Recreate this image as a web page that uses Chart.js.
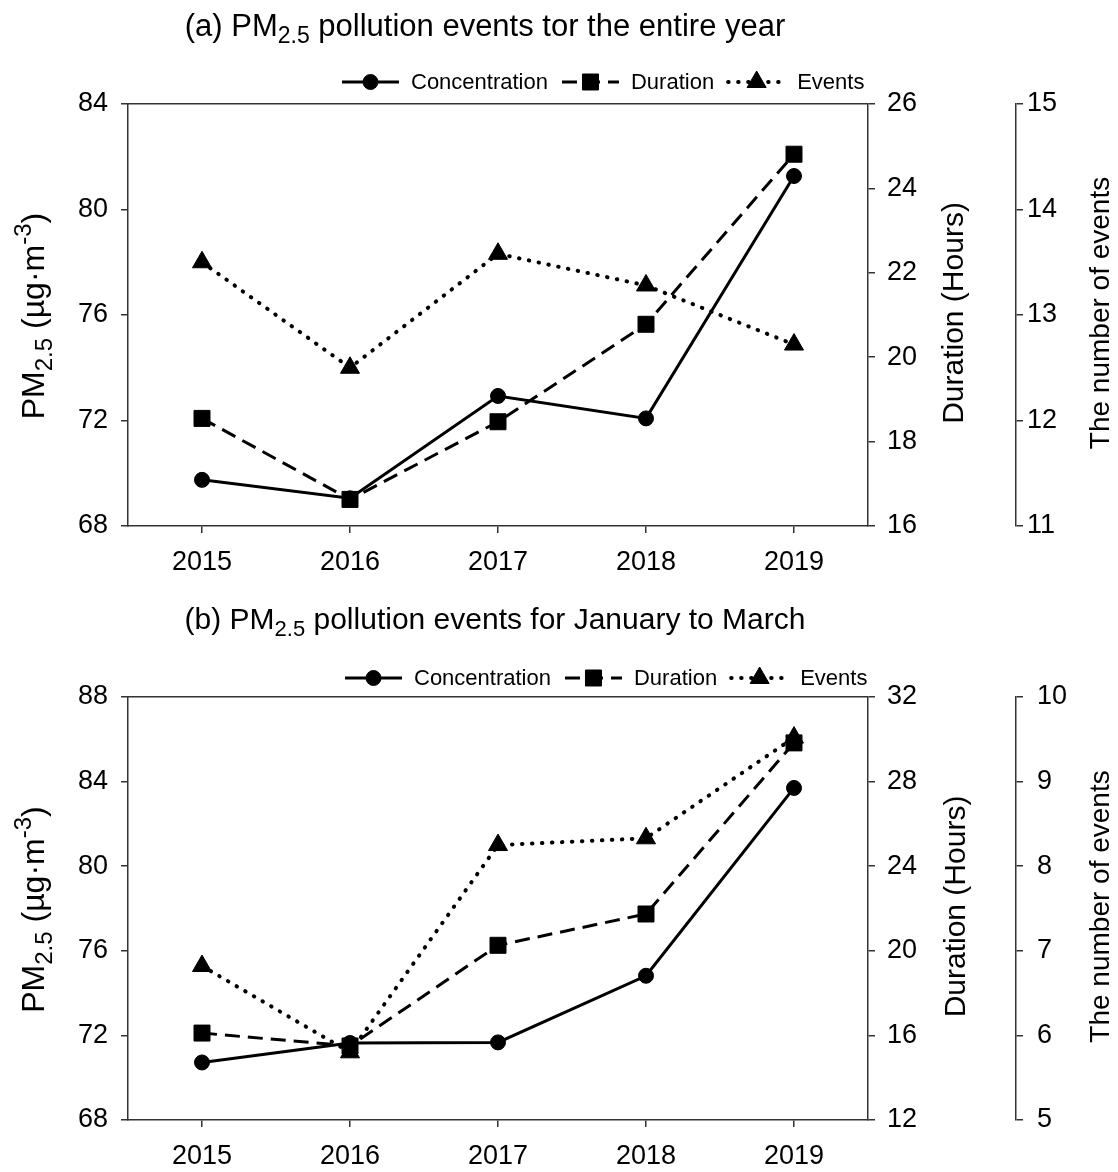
<!DOCTYPE html>
<html>
<head>
<meta charset="utf-8">
<title>PM2.5 pollution events</title>
<script src="https://cdn.jsdelivr.net/npm/chart.js@4.4.1/dist/chart.umd.min.js"></script>
<style>
  html, body { margin: 0; padding: 0; background: #fff; }
  #wrap { width: 1118px; height: 1172px; }
  canvas { display: block; }
</style>
</head>
<body>
<div id="wrap">
  <canvas id="chartA" width="1118" height="586"></canvas>
  <canvas id="chartB" width="1118" height="586"></canvas>
</div>
<script>
const years = ['2015', '2016', '2017', '2018', '2019'];

// (a) whole year
const concYear = [69.75, 69.05, 72.93, 72.08, 81.27];
const durYear = [18.55, 16.63, 18.47, 20.78, 24.81];
const eventsYear = [13.5, 12.5, 13.58, 13.28, 12.72];

// (b) January to March
const concJfm = [70.72, 71.64, 71.67, 74.82, 83.7];
const durJfm = [16.11, 15.5, 20.26, 21.74, 29.83];
const eventsJfm = [6.82, 5.8, 8.25, 8.33, 9.52];

const FONT = '"Liberation Sans", Arial, sans-serif';
const axisColor = '#333';
const tickFont = {family: FONT, size: 27};

// text made of runs with their own size / baseline shift (sub- and superscripts)
function drawRich(ctx, parts, x, y, rotate) {
    ctx.save();
    ctx.translate(x, y);
    if (rotate) ctx.rotate(-Math.PI / 2);
    ctx.fillStyle = '#000';
    ctx.textBaseline = 'alphabetic';
    ctx.textAlign = 'left';
    let total = 0;
    parts.forEach(p => {
        ctx.font = p.size + 'px ' + FONT;
        p.w = ctx.measureText(p.text).width;
        total += p.w;
    });
    let cx = -total / 2;
    parts.forEach(p => {
        ctx.font = p.size + 'px ' + FONT;
        ctx.fillText(p.text, cx, p.dy || 0);
        cx += p.w;
    });
    ctx.restore();
}

function drawLegend(chart, x0, y) {
    const ctx = chart.ctx;
    let x = x0;
    chart.data.datasets.forEach(ds => {
        ctx.save();
        ctx.strokeStyle = '#000';
        ctx.lineWidth = ds.borderWidth;
        ctx.setLineDash(ds.borderDash || []);
        ctx.lineCap = ds.borderCapStyle || 'butt';
        ctx.beginPath();
        ctx.moveTo(x, y);
        ctx.lineTo(x + 57, y);
        ctx.stroke();
        ctx.restore();

        ctx.save();
        ctx.fillStyle = '#000';
        ctx.strokeStyle = '#000';
        ctx.lineWidth = 1;
        Chart.helpers.drawPoint(ctx, {
            pointStyle: ds.pointStyle, radius: ds.pointRadius, borderWidth: 1, rotation: 0
        }, x + 28.5, y);
        ctx.restore();

        ctx.save();
        ctx.fillStyle = '#000';
        ctx.font = '22px ' + FONT;
        ctx.textBaseline = 'middle';
        ctx.fillText(ds.label, x + 69, y + 1);
        const w = ctx.measureText(ds.label).width;
        ctx.restore();
        x += 69 + w + 14;
    });
}

const pmLabel = [
    {text: 'PM', size: 32},
    {text: '2.5', size: 24, dy: 8},
    {text: ' (\u00b5g\u00b7m', size: 32},
    {text: '-3', size: 24, dy: -13},
    {text: ')', size: 32}
];

const panelDecor = {
    id: 'panelDecor',
    afterDraw(chart, args, o) {
        const ctx = chart.ctx;
        const a = chart.chartArea;

        // top edge of the frame
        ctx.save();
        ctx.strokeStyle = axisColor;
        ctx.lineWidth = 1.5;
        ctx.beginPath();
        ctx.moveTo(a.left, a.top - 0.25);
        ctx.lineTo(a.right, a.top - 0.25);
        ctx.stroke();
        ctx.restore();

        drawRich(ctx, o.title, o.titleX, o.titleY, false);

        const midY = (a.top + a.bottom) / 2;
        drawRich(ctx, pmLabel, 44, midY + 1, true);
        drawRich(ctx, [{text: 'Duration (Hours)', size: 30}], o.durX, midY - 2, true);
        drawRich(ctx, [{text: 'The number of events', size: 28}], 1109, midY - 2, true);

        drawLegend(chart, o.legendX, o.legendY);
    }
};

function yScale(pos, min, max, step, width, pad, weight) {
    return {
        position: pos,
        min: min,
        max: max,
        weight: weight,
        border: {display: true, color: axisColor, width: 1.5},
        grid: {drawOnChartArea: false, color: axisColor, lineWidth: 1.5, tickLength: 7},
        ticks: {stepSize: step, padding: pad, color: '#000', font: tickFont},
        afterFit: s => { s.width = width; }
    };
}

function makePanel(id, conc, dur, events, p) {
    const ctx = document.getElementById(id).getContext('2d');
    return new Chart(ctx, {
        type: 'line',
        data: {
            labels: years,
            datasets: [
                {
                    label: 'Concentration', data: conc, yAxisID: 'y',
                    borderColor: '#000', borderWidth: 3,
                    pointStyle: 'circle', pointRadius: 7.5,
                    pointBackgroundColor: '#000', pointBorderColor: '#000', pointBorderWidth: 1
                },
                {
                    label: 'Duration', data: dur, yAxisID: 'y1',
                    borderColor: '#000', borderWidth: 3, borderDash: [15, 8],
                    pointStyle: 'rect', pointRadius: 11.3,
                    pointBackgroundColor: '#000', pointBorderColor: '#000', pointBorderWidth: 1
                },
                {
                    label: 'Events', data: events, yAxisID: 'y2',
                    borderColor: '#000', borderWidth: 4, borderDash: [0.5, 9.5], borderCapStyle: 'round',
                    pointStyle: 'triangle', pointRadius: 11,
                    pointBackgroundColor: '#000', pointBorderColor: '#000', pointBorderWidth: 1
                }
            ]
        },
        options: {
            responsive: false,
            animation: false,
            devicePixelRatio: 1,
            layout: {padding: {top: p.top, left: 0, right: 0, bottom: 0}},
            plugins: {
                legend: {display: false},
                tooltip: {enabled: false},
                panelDecor: p.decor
            },
            scales: {
                x: {
                    type: 'category',
                    offset: true,
                    border: {display: true, color: axisColor, width: 1.5},
                    grid: {offset: false, drawOnChartArea: false, color: axisColor, lineWidth: 1.5, tickLength: 7},
                    ticks: {padding: 13, color: '#000', font: tickFont, maxRotation: 0},
                    afterFit: s => { s.height = p.xHeight; }
                },
                y: yScale('left', p.y[0], p.y[1], p.y[2], 128, 13, 0),
                y1: yScale('right', p.y1[0], p.y1[1], p.y1[2], 148, 12, 0),
                y2: yScale('right', p.y2[0], p.y2[1], p.y2[2], 102, p.y2Pad, 1)
            }
        },
        plugins: [panelDecor]
    });
}

makePanel('chartA', concYear, durYear, eventsYear, {
    top: 104, xHeight: 60,
    y: [68, 84, 4], y1: [16, 26, 2], y2: [11, 15, 1], y2Pad: 4,
    decor: {
        title: [
            {text: '(a) PM', size: 31},
            {text: '2.5', size: 23, dy: 7},
            {text: ' pollution events tor the entire year', size: 31}
        ],
        titleX: 485, titleY: 36,
        legendX: 342, legendY: 82,
        durX: 963
    }
});

makePanel('chartB', concJfm, durJfm, eventsJfm, {
    top: 111, xHeight: 52,
    y: [68, 88, 4], y1: [12, 32, 4], y2: [5, 10, 1], y2Pad: 14,
    decor: {
        title: [
            {text: '(b) PM', size: 30},
            {text: '2.5', size: 22, dy: 7},
            {text: ' pollution events for January to March', size: 30}
        ],
        titleX: 495, titleY: 43,
        legendX: 345, legendY: 92,
        durX: 965
    }
});
</script>
</body>
</html>
